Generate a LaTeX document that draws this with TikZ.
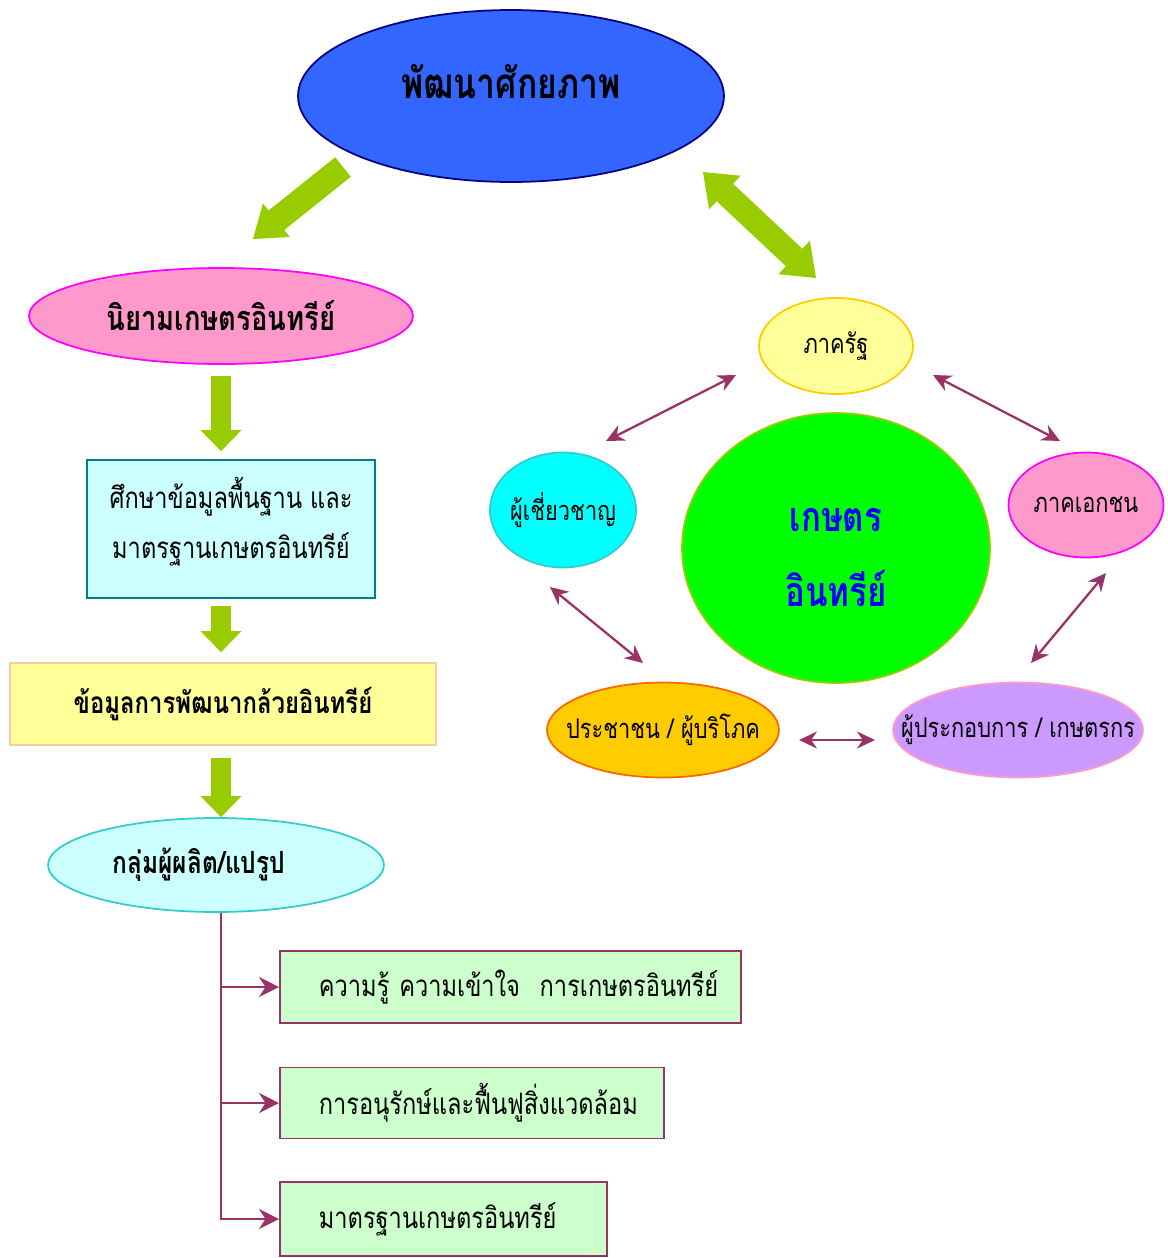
\documentclass[tikz,border=0pt]{standalone}
\usepackage{fontspec}
\setmainfont[Script=Thai, FakeStretch=0.8]{Loma}
\usepackage{tikz}
\usetikzlibrary{calc, shapes.geometric, arrows.meta}
\definecolor{royal}{HTML}{3366FF}
\definecolor{navyline}{HTML}{000080}
\definecolor{leaf}{HTML}{99CC00}
\definecolor{rose}{HTML}{FF99CC}
\definecolor{pinkline}{HTML}{FF00FF}
\definecolor{aqua}{HTML}{CCFFFF}
\definecolor{turq}{HTML}{33CCCC}
\definecolor{tealline}{HTML}{008080}
\definecolor{lemon}{HTML}{FFFF99}
\definecolor{peach}{HTML}{FFCC99}
\definecolor{mint}{HTML}{CCFFCC}
\definecolor{plum}{HTML}{993366}
\definecolor{gold}{HTML}{FFCC00}
\definecolor{flame}{HTML}{FF6600}
\definecolor{lilac}{HTML}{CC99FF}
\definecolor{brightgreen}{HTML}{00FF00}
\definecolor{brightcyan}{HTML}{00FFFF}
\definecolor{coretext}{HTML}{0000FF}
\newcommand{\titlefont}{\fontsize{24}{28}\selectfont\bfseries}
\newcommand{\headfont}{\fontsize{19.5}{23}\selectfont\bfseries}
\newcommand{\datafont}{\fontsize{17}{21}\selectfont\bfseries}
\newcommand{\groupfont}{\fontsize{17.4}{21}\selectfont\bfseries}
\newcommand{\bodyfont}{\fontsize{16.8}{28.5}\selectfont}
\newcommand{\itemfont}{\fontsize{16.8}{20}\selectfont}
\newcommand{\smallfont}{\fontsize{15.5}{18}\selectfont}
\newcommand{\corefont}{\fontsize{23.5}{43}\selectfont\bfseries}
\tikzstyle{bubble} = [ellipse, draw, inner sep=0pt, line width=1pt, align=center]
\tikzstyle{panel}  = [rectangle, draw, line width=1pt, align=center]
\tikzstyle{topic}  = [rectangle, draw=plum, fill=mint, line width=1pt, anchor=west, align=left, inner xsep=0.78cm, font=\itemfont]
\tikzstyle{down}   = [draw=leaf, line width=0.4cm, -{Triangle[width=0.82cm, length=0.42cm, line width=0pt]}]
\tikzstyle{fat}    = [draw=leaf, line width=0.5cm, -{Triangle[width=0.86cm, length=0.6cm, line width=0pt]}]
\tikzstyle{fatboth}= [draw=leaf, line width=0.48cm, {Triangle[width=0.92cm, length=0.6cm, line width=0pt]}-{Triangle[width=0.92cm, length=0.6cm, line width=0pt]}]
\tikzstyle{link}   = [draw=plum, line width=1.3pt, {Stealth[length=0.36cm, width=0.34cm]}-{Stealth[length=0.36cm, width=0.34cm]}]
\tikzstyle{branch} = [draw=plum, line width=1.3pt, -{Stealth[length=0.4cm, width=0.4cm]}]

\begin{document}
\begin{tikzpicture}[x=0.02cm, y=-0.02cm]
  \useasboundingbox (0,0) rectangle (1167,1258);

  \node (vision)  [bubble, fill=royal, draw=navyline, minimum width=8.52cm, minimum height=3.44cm] at (511,96) {\raisebox{0.6cm}{\titlefont พัฒนาศักยภาพ}};

  % left column
  \node (define)  [bubble, fill=rose, draw=pinkline, minimum width=7.68cm, minimum height=1.92cm, font=\headfont] at (221,316) {นิยามเกษตรอินทรีย์};
  \node (study)   [panel, fill=aqua, draw=tealline, minimum width=5.76cm, minimum height=2.76cm, font=\bodyfont, text depth=0.45cm] at (231,529) {ศึกษาข้อมูลพื้นฐาน และ\\มาตรฐานเกษตรอินทรีย์};
  \node (data)    [panel, fill=lemon, draw=peach, minimum width=8.52cm, minimum height=1.64cm, font=\datafont] at (223,704) {ข้อมูลการพัฒนากล้วยอินทรีย์};
  \node (group)   [bubble, fill=aqua, draw=turq, minimum width=6.72cm, minimum height=1.88cm, font=\groupfont] at (216,865) {\hspace*{-0.68cm}กลุ่มผู้ผลิต/แปรูป};

  \node (k1) [topic, minimum height=1.44cm, text width=7.66cm] at (279,987)  {\mbox{ความรู้\ ความเข้าใจ\ \ การเกษตรอินทรีย์}};
  \node (k2) [topic, minimum height=1.42cm, text width=6.12cm] at (279,1103) {\mbox{การอนุรักษ์และฟื้นฟูสิ่งแวดล้อม}};
  \node (k3) [topic, minimum height=1.48cm, text width=4.98cm] at (279,1219) {\mbox{มาตรฐานเกษตรอินทรีย์}};

  % right cluster
  \node (core)    [bubble, fill=brightgreen, draw=leaf, minimum width=6.16cm, minimum height=5.4cm, font=\corefont, text=coretext, text height=2.36cm] at (836,548) {เกษตร\\อินทรีย์};
  \node (state)   [bubble, fill=lemon, draw=gold, minimum width=3.08cm, minimum height=1.92cm, font=\smallfont, inner xsep=-0.4cm] at (836,346) {ภาครัฐ};
  \node (expert)  [bubble, fill=brightcyan, draw=turq, minimum width=2.92cm, minimum height=2.3cm, font=\smallfont, inner xsep=-0.4cm] at (563,510) {ผู้เชี่ยวชาญ};
  \node (private) [bubble, fill=rose, draw=pinkline, minimum width=3.1cm, minimum height=2.1cm, font=\smallfont, inner xsep=-0.4cm] at (1086,505) {ภาคเอกชน};
  \node (public)  [bubble, fill=gold, draw=flame, minimum width=4.64cm, minimum height=1.9cm, font=\smallfont, inner xsep=-0.7cm] at (663,730) {ประชาชน / ผู้บริโภค};
  \node (farmer)  [bubble, fill=lilac, draw=rose, minimum width=5cm, minimum height=1.9cm, font=\smallfont, inner xsep=-0.7cm] at (1018,730) {ผู้ประกอบการ / เกษตรกร};

  % free ends of the arrows
  \coordinate (v1) at (343,167);  \coordinate (v2) at (253,239);
  \coordinate (v3) at (703,172);  \coordinate (v4) at (816,278);
  \coordinate (s1) at (736,375);  \coordinate (e1) at (606,441);
  \coordinate (s2) at (933,375);  \coordinate (p1) at (1060,441);
  \coordinate (e2) at (550,587);  \coordinate (c1) at (643,663);
  \coordinate (p2) at (1106,573); \coordinate (f1) at (1031,663);
  \coordinate (c2) at (799,740);  \coordinate (f2) at (875,740);

  \draw [fat] (v1) -- (v2);
  \draw [fatboth] (v3) -- (v4);

  \draw [down] (define.south) ++(0,11) -- ($(study.north)+(-10,-8)$);
  \draw [down] (study.south) ++(-10,7) -- ($(data.north)+(-2,-10)$);
  \draw [down] (data.south) ++(-2,12) -- ($(group.north)+(5,0)$);

  \draw [branch] ([xshift=0.1cm]group.south) |- (k1.west);
  \draw [branch] ([xshift=0.1cm]group.south) |- (k2.west);
  \draw [branch] ([xshift=0.1cm]group.south) |- (k3.west);

  \draw [link] (s1) -- (e1);
  \draw [link] (s2) -- (p1);
  \draw [link] (e2) -- (c1);
  \draw [link] (p2) -- (f1);
  \draw [link] (c2) -- (f2);
\end{tikzpicture}
\end{document}
